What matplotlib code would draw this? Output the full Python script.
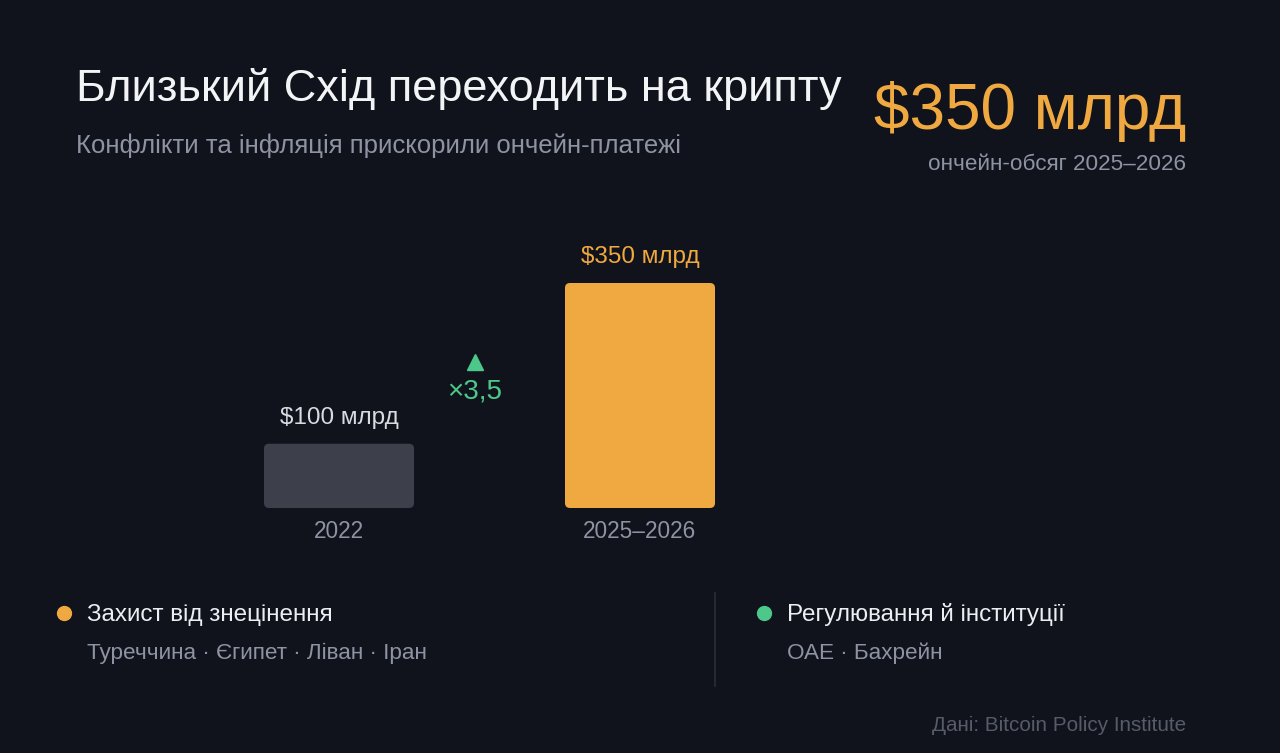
import matplotlib.pyplot as plt
from matplotlib.patches import FancyBboxPatch

plt.rcParams['font.family'] = ['Liberation Sans', 'DejaVu Sans']

periods = ['2022', '2025–2026']
volumes = [100, 350]
value_labels = ['$100 млрд', '$350 млрд']

BG = '#10131b'
ORANGE = '#f0a940'
GREY_BAR = '#3d404b'
GREEN = '#4cc98a'
MUTED = '#8e93a3'

W, H = 1280, 753
fig = plt.figure(figsize=(W / 100, H / 100), dpi=100, facecolor=BG)


def px(x, y):
    return x / W, 1 - y / H


def text(x, y, s, **kw):
    # small nudge: matplotlib centres on the full box incl. descenders
    fx, fy = px(x, y + 3)
    fig.text(fx, fy, s, va='center', **kw)


# bar area: x from 188.5 to 790.5 px, y from 200 to 508 px
ax_left, ax_right, ax_top, ax_bot = 188.5, 790.5, 200, 508
ax = fig.add_axes([ax_left / W, 1 - ax_bot / H, (ax_right - ax_left) / W, (ax_bot - ax_top) / H])
ax.set_facecolor(BG)
ax.set_xlim(-0.5, 1.5)
ymax = 350 * (ax_bot - ax_top) / 225
ax.set_ylim(0, ymax)
ax.axis('off')

xu = 2 / (ax_right - ax_left)
yu = ymax / (ax_bot - ax_top)
colors = [GREY_BAR, ORANGE]
lab_colors = ['#d9dbe1', ORANGE]
w = 150 * xu
for i, (p, v) in enumerate(zip(periods, volumes)):
    ax.add_patch(FancyBboxPatch((i - w / 2, 0), w, v,
                                boxstyle='round,pad=0,rounding_size=%f' % (5 * xu),
                                mutation_aspect=yu / xu, fc=colors[i], ec='none'))
    ax.text(i, v + 26 * yu, value_labels[i], ha='center', va='center',
            color=lab_colors[i], fontsize=17.5)
    ax.text(i, -23 * yu, p, ha='center', va='center', color=MUTED, fontsize=16.3, clip_on=False)

# growth marker
gx = 0.5 - 15 * xu
ax.plot([gx], [ymax - 162 * yu], marker='^', ms=11, color=GREEN, clip_on=False)
ax.text(gx, ymax - 191 * yu, '×3,5', ha='center', va='center', color=GREEN, fontsize=20)

# header
text(76, 86, 'Близький Схід переходить на крипту', color='#f3f4f6', fontsize=32.5)
text(76, 143, 'Конфлікти та інфляція прискорили ончейн-платежі', color=MUTED, fontsize=18.5)
text(1186, 108, '$350 млрд', color=ORANGE, fontsize=46, ha='right')
text(1186, 161, 'ончейн-обсяг 2025–2026', color=MUTED, fontsize=16.2, ha='right')

# legend blocks
for dx, c, head, sub in [(0, ORANGE, 'Захист від знецінення', 'Туреччина · Єгипет · Ліван · Іран'),
                         (700, GREEN, 'Регулювання й інституції', 'ОАЕ · Бахрейн')]:
    fx, fy = px(64 + dx, 613)
    fig.add_artist(plt.Line2D([fx], [fy], transform=fig.transFigure, marker='o',
                              ms=10, color=c, lw=0))
    text(87 + dx, 612, head, color='#eceef2', fontsize=17.5)
    text(87 + dx, 650, sub, color=MUTED, fontsize=16.2)

x0, y0 = px(715, 593)
_, y1 = px(715, 686)
fig.add_artist(plt.Line2D([x0, x0], [y0, y1], transform=fig.transFigure, color='#2a2e38', lw=1.2))

text(1186, 722, 'Дані: Bitcoin Policy Institute', color='#555b68', fontsize=14.9, ha='right')

fig.savefig('out.png', dpi=100, facecolor=BG)
